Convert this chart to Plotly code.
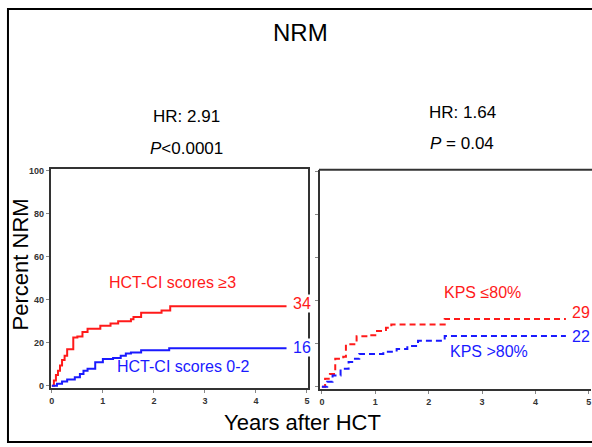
import plotly.graph_objects as go

W, H = 592, 447

# ---- data ----
years_ticks = [0, 1, 2, 3, 4, 5]
pct_ticks = [0, 20, 40, 60, 80, 100]

hctci_high_t = [0, 0.04, 0.08, 0.12, 0.16, 0.2, 0.25, 0.3, 0.42, 0.5, 0.6, 0.7, 0.95, 1.15, 1.3, 1.55, 1.6, 1.75, 2.15, 2.32, 4.6]
hctci_high_v = [0, 2.5, 5, 7, 9.5, 12, 14, 17, 22.5, 23, 25, 26.5, 28, 29, 30, 31, 32, 34, 35, 37, 37]

hctci_low_t = [0, 0.1, 0.2, 0.3, 0.45, 0.55, 0.62, 0.7, 0.85, 1.0, 1.2, 1.35, 1.45, 1.55, 1.75, 2.3, 4.6]
hctci_low_v = [0, 1, 2, 3, 4, 5.5, 7, 8, 11, 12.5, 13, 14, 15, 15.5, 16.5, 17.5, 17.5]

kps_low_t = [0, 0.06, 0.15, 0.25, 0.4, 0.45, 0.65, 0.9, 1.0, 1.2, 1.3, 2.3, 4.57]
kps_low_v = [0, 3.8, 6, 13, 14, 19.8, 23.5, 24, 26, 27.5, 29, 31.6, 31.6]

kps_high_t = [0, 0.1, 0.2, 0.35, 0.5, 0.6, 0.7, 1.15, 1.4, 1.6, 1.8, 2.3, 4.57]
kps_high_v = [0, 2.3, 5.3, 8.4, 11.5, 13, 15.3, 16.3, 17.6, 19, 21.4, 23.7, 23.7]

end_labels_left = ["34", "16"]
end_labels_right = ["29", "22"]

RED = "#ff1a1a"
BLUE = "#1a1aff"
FONT = "Liberation Sans, Arial, sans-serif"


def px(x):
    return x / W


def py(y):
    return 1 - y / H


fig = go.Figure()

fig.add_trace(go.Scatter(x=hctci_high_t, y=hctci_high_v, mode="lines", line=dict(color=RED, width=2, shape="hv"),
                         xaxis="x", yaxis="y", showlegend=False))
fig.add_trace(go.Scatter(x=hctci_low_t, y=hctci_low_v, mode="lines", line=dict(color=BLUE, width=2, shape="hv"),
                         xaxis="x", yaxis="y", showlegend=False))
fig.add_trace(go.Scatter(x=kps_low_t, y=kps_low_v, mode="lines",
                         line=dict(color=RED, width=2, shape="hv", dash="6px,4px"),
                         xaxis="x2", yaxis="y2", showlegend=False))
fig.add_trace(go.Scatter(x=kps_high_t, y=kps_high_v, mode="lines",
                         line=dict(color=BLUE, width=2, shape="hv", dash="6px,4px"),
                         xaxis="x2", yaxis="y2", showlegend=False))

tickfont = dict(family=FONT, size=9, color="#333333", weight="bold")
axis_common = dict(showgrid=False, zeroline=False, showline=True, linecolor="#333333", linewidth=2,
                   ticks="outside", ticklen=3, tickcolor="#888888", tickfont=tickfont, fixedrange=True)

fig.update_layout(
    width=W, height=H,
    margin=dict(l=0, r=0, t=0, b=0),
    paper_bgcolor="white", plot_bgcolor="white",
    xaxis=dict(domain=[px(50), px(308)], range=[-0.02, 5.02], tickvals=years_ticks, anchor="y",
               mirror=True, **axis_common),
    yaxis=dict(domain=[py(390), py(168)], range=[-0.9, 101], tickvals=pct_ticks, anchor="x",
               mirror=True, **axis_common),
    xaxis2=dict(domain=[px(320), 1.0], range=[-0.037, 5.04], tickvals=years_ticks, anchor="y2",
                **axis_common),
    yaxis2=dict(domain=[py(391), py(169)], range=[-0.9, 101], tickvals=pct_ticks, anchor="x2",
                showticklabels=False, **axis_common),
)

# top border of the right panel + outer frame
fig.add_shape(type="line", xref="paper", yref="paper", x0=px(319), x1=1.02, y0=py(169), y1=py(169),
              line=dict(color="#333333", width=2))
fig.add_shape(type="rect", xref="paper", yref="paper", x0=px(7), x1=1.05, y0=py(445), y1=py(6),
              line=dict(color="black", width=2))


def ann(text, x, y, size, color="black", angle=0, xanchor="center", bg=None):
    fig.add_annotation(text=text, xref="paper", yref="paper", x=px(x), y=py(y), showarrow=False,
                       xanchor=xanchor, yanchor="middle", textangle=angle, bgcolor=bg, borderpad=0,
                       font=dict(family=FONT, size=size, color=color))


ann("NRM", 301, 30, 24)
ann("HR: 2.91", 186, 115, 17)
ann("<i>P</i><0.0001", 186, 147, 17)
ann("HR: 1.64", 463, 111, 17)
ann("<i>P</i> = 0.04", 463, 142, 17)
ann("Percent NRM", 20, 265, 22, angle=-90)
ann("Years after HCT", 303, 425, 22)

ann("HCT-CI scores ≥3", 172, 283, 16, RED)
ann("HCT-CI scores 0-2", 183, 368, 16, BLUE)
ann(end_labels_left[0], 302, 305, 16, RED, bg="white")
ann(end_labels_left[1], 302, 349, 16, BLUE, bg="white")

ann("KPS ≤80%", 483, 293, 16, RED)
ann("KPS >80%", 490, 353, 16, BLUE)
ann(end_labels_right[0], 592, 314, 16, RED, xanchor="right")
ann(end_labels_right[1], 592, 338, 16, BLUE, xanchor="right")

fig.write_html("out.html")
